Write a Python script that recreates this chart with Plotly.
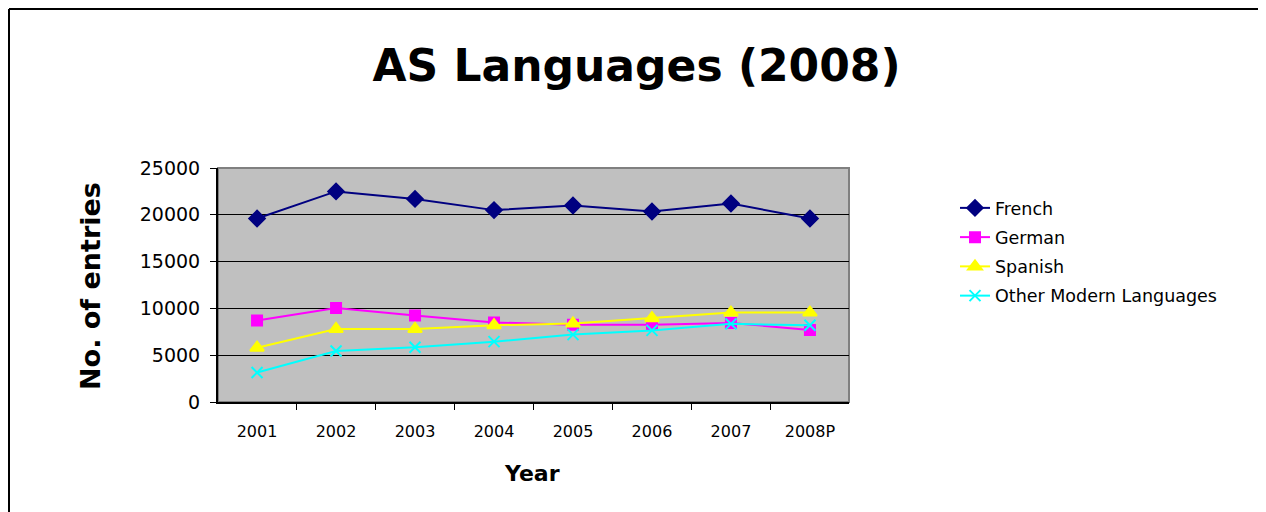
import plotly.graph_objects as go

years = ["2001", "2002", "2003", "2004", "2005", "2006", "2007", "2008P"]
french = [19600, 22500, 21700, 20500, 21000, 20350, 21200, 19600]
german = [8700, 10050, 9250, 8500, 8250, 8250, 8450, 7700]
spanish = [5800, 7800, 7800, 8200, 8400, 8950, 9550, 9550]
other = [3150, 5450, 5850, 6450, 7200, 7650, 8350, 8200]

# the page body adds an 8px margin, so the figure is drawn 8px smaller
O = 8
W, H = 1266 - O, 512 - O
L, R, T, B = 218, 849, 168, 402  # plot area in page pixels

FONT = "DejaVu Sans"

series = [
    ("French", french, "#000080", "diamond", 12),
    ("German", german, "#FF00FF", "square", 10),
    ("Spanish", spanish, "#FFFF00", "triangle-up", 12),
    ("Other Modern Languages", other, "#00FFFF", "x-thin", 11),
]

fig = go.Figure()
for name, vals, col, sym, sz in series:
    fig.add_trace(go.Scatter(
        x=years, y=vals, name=name, mode="lines+markers", legendgroup=name,
        line=dict(color=col, width=2),
        marker=dict(symbol=sym, size=sz, color=col, line=dict(color=col, width=2)),
    ))


def px(x):
    return (x - L) / (R - L)


def py(y):
    return (B - y) / (B - T)


fig.update_layout(
    width=W, height=H,
    margin=dict(l=L - O, r=W - (R - O), t=T - O, b=H - (B - O), autoexpand=False),
    paper_bgcolor="white", plot_bgcolor="#C0C0C0",
    font=dict(family=FONT, color="black"),
    title=dict(text="<b>AS Languages (2008)</b>", x=(636.5 - O) / W, xref="container", xanchor="center",
               y=1 - (66 - O) / H, yref="container", yanchor="middle", font=dict(size=44, family=FONT)),
    showlegend=True,
    legend=dict(x=px(955), y=py(190), xanchor="left", yanchor="top", tracegroupgap=3.5,
                font=dict(size=17.5, family=FONT), bgcolor="rgba(0,0,0,0)"),
    shapes=[
        # outer frame (as close to the page corner as the figure allows)
        dict(type="line", xref="paper", yref="paper", x0=px(9), x1=px(1300), y0=py(9), y1=py(9),
             line=dict(color="black", width=2)),
        dict(type="line", xref="paper", yref="paper", x0=px(9), x1=px(9), y0=py(9), y1=py(600),
             line=dict(color="black", width=2)),
        # plot area border
        dict(type="rect", xref="paper", yref="paper", x0=0, x1=1, y0=0, y1=1,
             line=dict(color="#808080", width=2), layer="below"),
    ],
    annotations=[
        dict(text="<b>Year</b>", xref="paper", yref="paper", x=px(532), y=py(473),
             xanchor="center", yanchor="middle", showarrow=False, font=dict(size=22, family=FONT)),
        dict(text="<b>No. of entries</b>", xref="paper", yref="paper", x=px(90), y=py(286),
             xanchor="center", yanchor="middle", textangle=-90, showarrow=False,
             font=dict(size=27, family=FONT)),
    ],
)

fig.update_xaxes(
    type="category", showgrid=False, showline=True, linecolor="black", linewidth=2,
    ticks="outside", tickson="boundaries", ticklen=6, tickcolor="black",
    tickfont=dict(size=16, family=FONT), ticklabelstandoff=14,
)
fig.update_yaxes(
    range=[0, 25000], dtick=5000, tickformat="d", showgrid=True, gridcolor="black", gridwidth=1,
    zeroline=False, showline=True, linecolor="black", linewidth=2,
    ticks="outside", ticklen=6, tickcolor="black",
    tickfont=dict(size=19, family=FONT), ticklabelstandoff=6,
)

fig.write_html("out.html")
